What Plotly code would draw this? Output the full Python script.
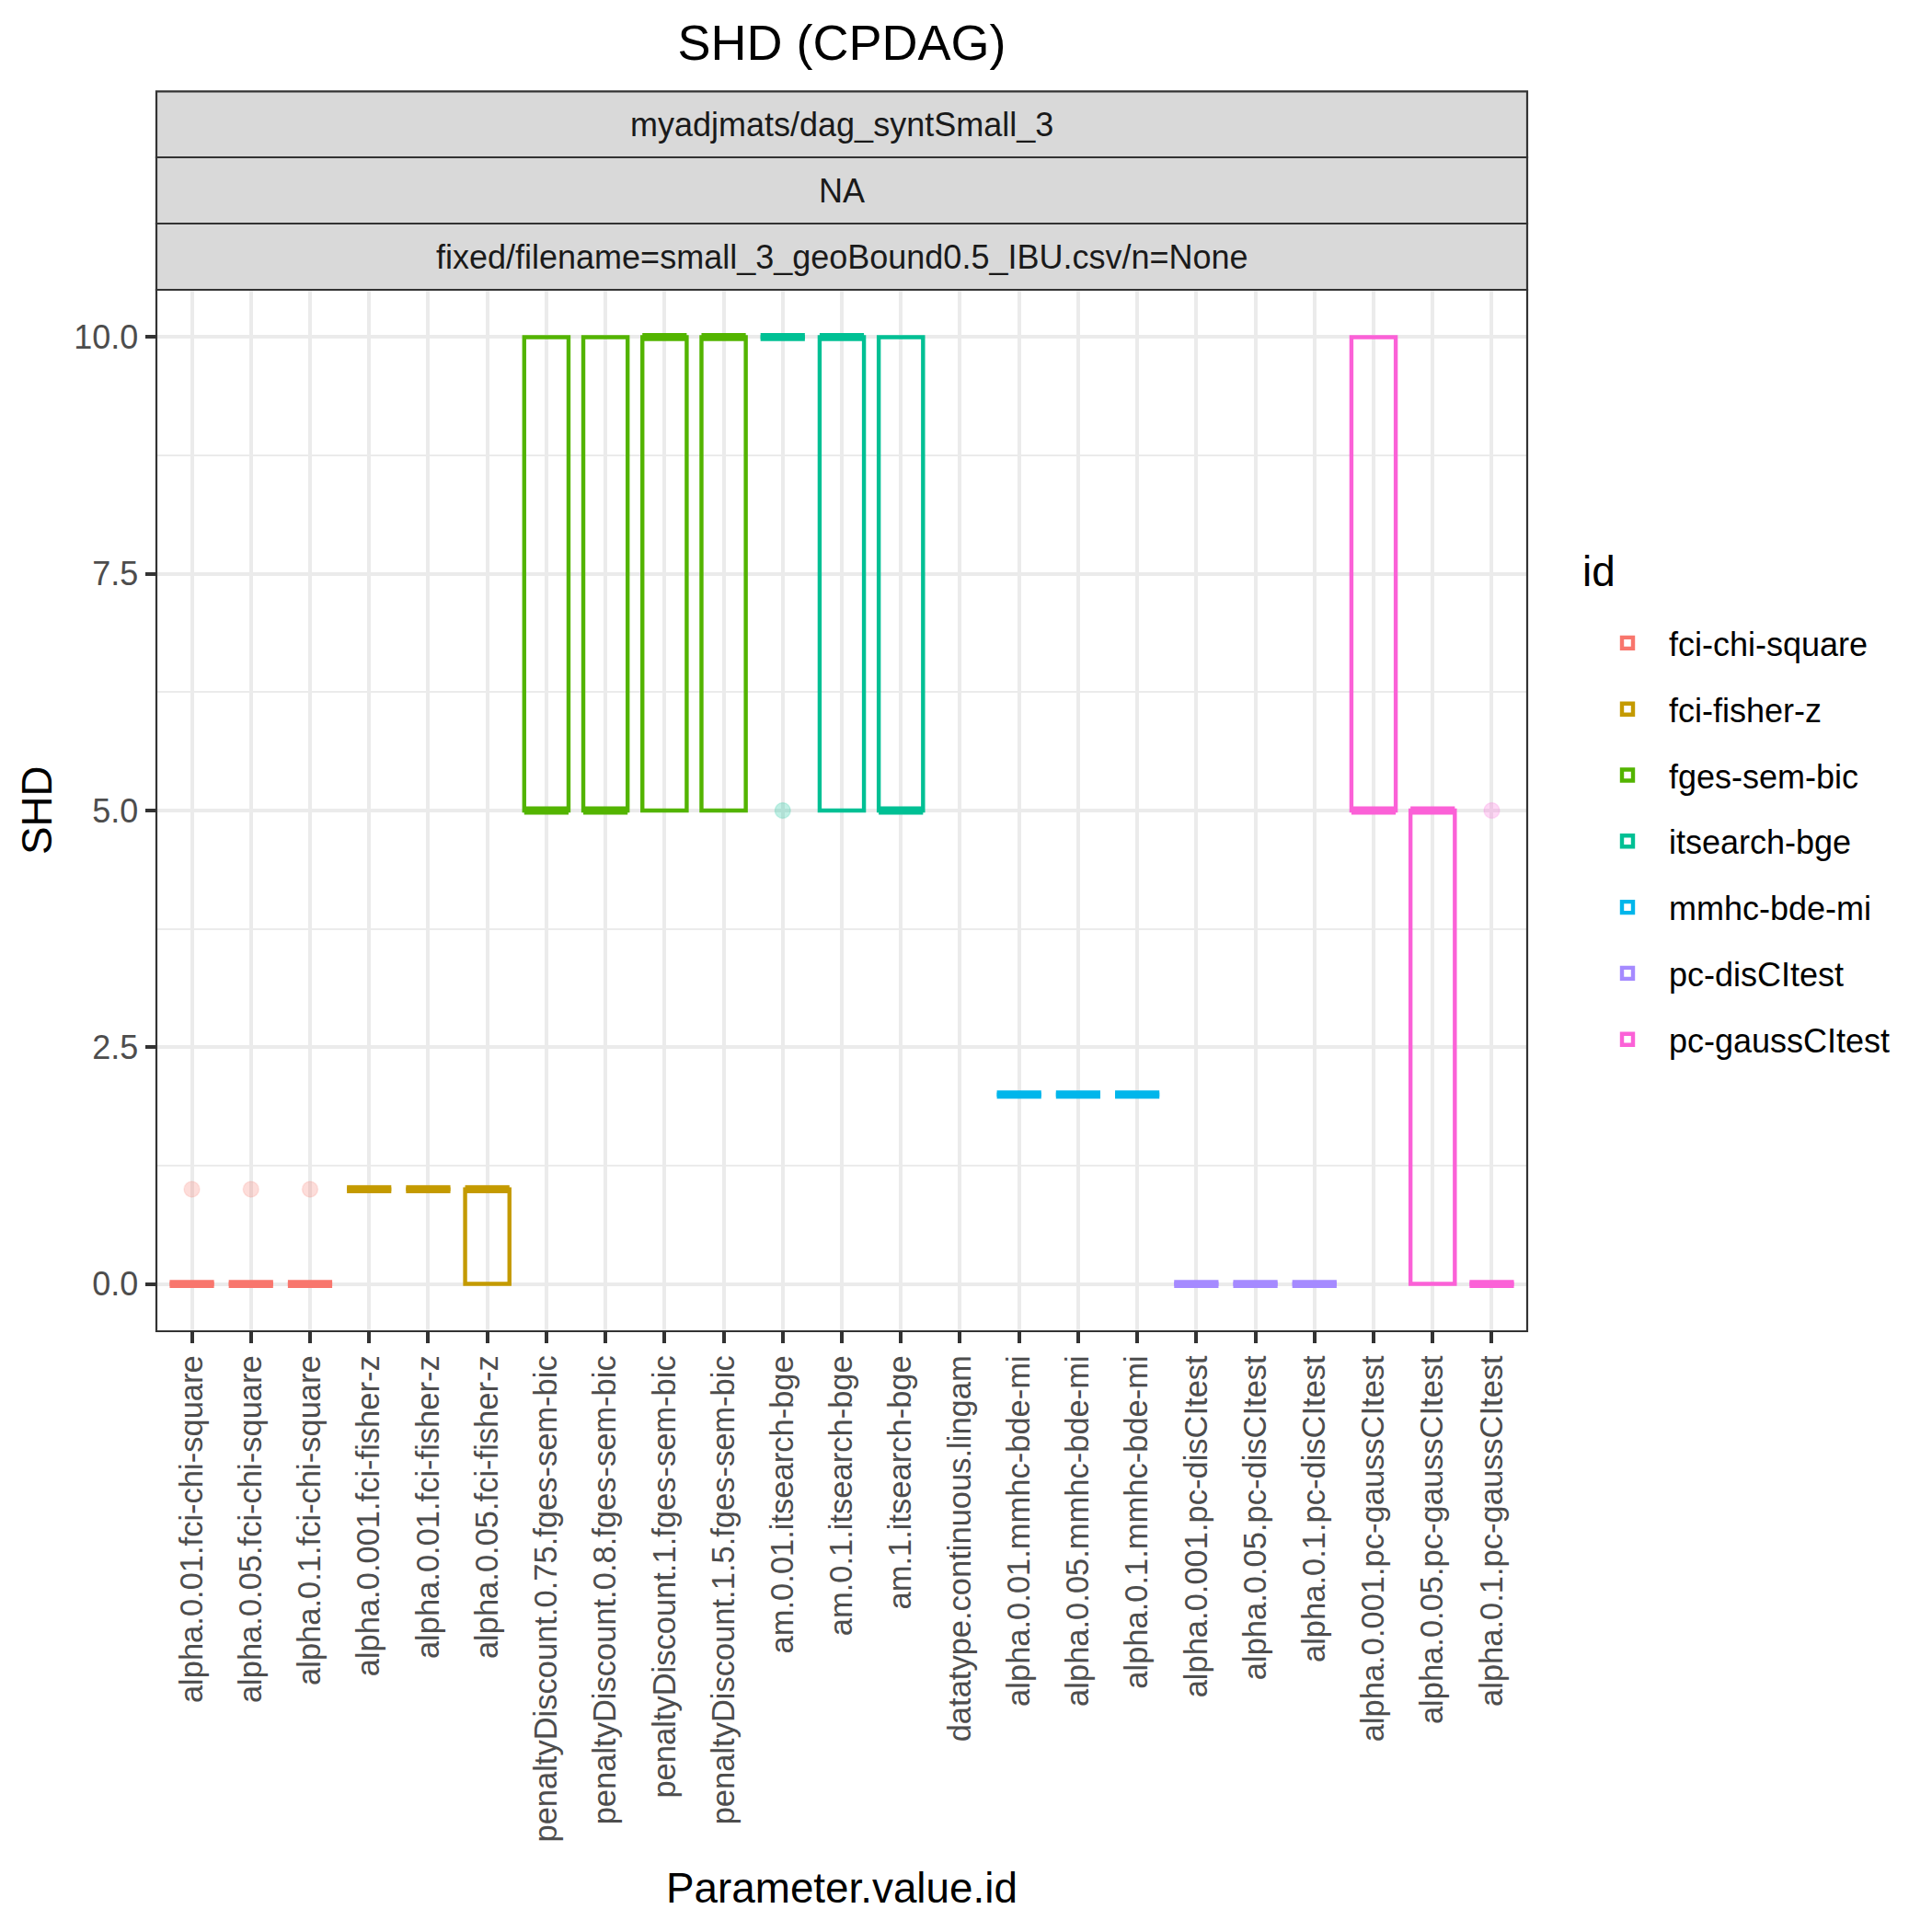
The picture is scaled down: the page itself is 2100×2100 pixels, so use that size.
import plotly.graph_objects as go

# ---------------- data ----------------
categories = [
    "alpha.0.01.fci-chi-square", "alpha.0.05.fci-chi-square", "alpha.0.1.fci-chi-square",
    "alpha.0.001.fci-fisher-z", "alpha.0.01.fci-fisher-z", "alpha.0.05.fci-fisher-z",
    "penaltyDiscount.0.75.fges-sem-bic", "penaltyDiscount.0.8.fges-sem-bic",
    "penaltyDiscount.1.fges-sem-bic", "penaltyDiscount.1.5.fges-sem-bic",
    "am.0.01.itsearch-bge", "am.0.1.itsearch-bge", "am.1.itsearch-bge",
    "datatype.continuous.lingam",
    "alpha.0.01.mmhc-bde-mi", "alpha.0.05.mmhc-bde-mi", "alpha.0.1.mmhc-bde-mi",
    "alpha.0.001.pc-disCItest", "alpha.0.05.pc-disCItest", "alpha.0.1.pc-disCItest",
    "alpha.0.001.pc-gaussCItest", "alpha.0.05.pc-gaussCItest", "alpha.0.1.pc-gaussCItest",
]
cat_ids = [
    "fci-chi-square", "fci-chi-square", "fci-chi-square",
    "fci-fisher-z", "fci-fisher-z", "fci-fisher-z",
    "fges-sem-bic", "fges-sem-bic", "fges-sem-bic", "fges-sem-bic",
    "itsearch-bge", "itsearch-bge", "itsearch-bge",
    None,
    "mmhc-bde-mi", "mmhc-bde-mi", "mmhc-bde-mi",
    "pc-disCItest", "pc-disCItest", "pc-disCItest",
    "pc-gaussCItest", "pc-gaussCItest", "pc-gaussCItest",
]
q1_vals     = [0, 0, 0, 1, 1, 0, 5, 5, 5, 5, 10, 5, 5, None, 2, 2, 2, 0, 0, 0, 5, 0, 0]
median_vals = [0, 0, 0, 1, 1, 1, 5, 5, 10, 10, 10, 10, 5, None, 2, 2, 2, 0, 0, 0, 5, 5, 0]
q3_vals     = [0, 0, 0, 1, 1, 1, 10, 10, 10, 10, 10, 10, 10, None, 2, 2, 2, 0, 0, 0, 10, 5, 0]
outlier_cat = [0, 1, 2, 10, 22]
outlier_val = [1, 1, 1, 5, 5]

legend_ids = ["fci-chi-square", "fci-fisher-z", "fges-sem-bic", "itsearch-bge",
              "mmhc-bde-mi", "pc-disCItest", "pc-gaussCItest"]
id_colors = ["#F8766D", "#C49A00", "#53B400", "#00C094", "#00B6EB", "#A58AFF", "#FB61D7"]
strip_labels = ["myadjmats/dag_syntSmall_3", "NA",
                "fixed/filename=small_3_geoBound0.5_IBU.csv/n=None"]
y_ticks = [0, 2.5, 5, 7.5, 10]

# ---------------- styling ----------------
FONT = "Liberation Sans, Arial, Helvetica, sans-serif"
W = H = 2100
PL, PR, PT, PB = 170, 1660, 315, 1447
STRIP_EDGES = [99.3, 171, 243, 315]
BOX_W = 0.75
LW = 4.4

color_of = dict(zip(legend_ids, id_colors))


def rgba(hexc, a):
    hexc = hexc.lstrip("#")
    r, g, b = int(hexc[0:2], 16), int(hexc[2:4], 16), int(hexc[4:6], 16)
    return f"rgba({r},{g},{b},{a})"


fig = go.Figure()
seen = set()
for i, cid in enumerate(cat_ids):
    if cid is None or q1_vals[i] is None:
        continue
    col = color_of[cid]
    show = cid not in seen
    seen.add(cid)
    fig.add_trace(go.Box(
        x=[i], q1=[q1_vals[i]], median=[median_vals[i]], q3=[q3_vals[i]],
        lowerfence=[q1_vals[i]], upperfence=[q3_vals[i]],
        width=BOX_W, boxpoints=False,
        line=dict(color=col, width=LW), fillcolor="rgba(0,0,0,0)",
        name=cid, legendgroup=cid, showlegend=show,
        legendrank=legend_ids.index(cid) + 1,
    ))
    fig.add_trace(go.Scatter(
        x=[i - BOX_W / 2, i + BOX_W / 2], y=[median_vals[i], median_vals[i]],
        mode="lines", line=dict(color=col, width=LW * 2),
        showlegend=False, legendgroup=cid, hoverinfo="skip",
    ))

for ci, v in zip(outlier_cat, outlier_val):
    col = color_of[cat_ids[ci]]
    fig.add_trace(go.Scatter(
        x=[ci], y=[v], mode="markers",
        marker=dict(size=17, color=rgba(col, 0.25), line=dict(width=1.5, color=rgba(col, 0.15))),
        showlegend=False, hoverinfo="skip",
    ))

# ---------------- layout ----------------
plot_h = PB - PT


def py(p):
    return (PB - p) / plot_h


def px(p):
    return (p - PL) / (PR - PL)


shapes = []
annotations = []
for k, lab in enumerate(strip_labels):
    y0, y1 = py(STRIP_EDGES[k + 1]), py(STRIP_EDGES[k])
    shapes.append(dict(type="rect", xref="paper", yref="paper", x0=0, x1=1, y0=y0, y1=y1,
                       fillcolor="#D9D9D9", line=dict(color="#333333", width=2.2), layer="above"))
    annotations.append(dict(xref="paper", yref="paper", x=0.5, y=(y0 + y1) / 2,
                            text=lab, showarrow=False, xanchor="center", yanchor="middle",
                            font=dict(family=FONT, size=36, color="#1A1A1A")))
shapes.append(dict(type="rect", xref="paper", yref="paper", x0=0, x1=1, y0=0, y1=1,
                   line=dict(color="#333333", width=2.2), layer="above"))
annotations.append(dict(xref="paper", yref="paper", x=0.5, y=py(2052),
                        text="Parameter.value.id", showarrow=False,
                        xanchor="center", yanchor="middle",
                        font=dict(family=FONT, size=45.8, color="black")))
annotations.append(dict(xref="paper", yref="paper", x=px(40), y=0.5,
                        text="SHD", showarrow=False, textangle=-90,
                        xanchor="center", yanchor="middle",
                        font=dict(family=FONT, size=45.8, color="black")))
annotations.append(dict(xref="paper", yref="paper", x=px(1718), y=py(621),
                        text="id", showarrow=False, xanchor="left", yanchor="middle",
                        font=dict(family=FONT, size=45.8, color="black")))

fig.update_layout(
    width=W, height=H,
    margin=dict(l=PL, r=W - PR, t=PT, b=H - PB, autoexpand=False),
    paper_bgcolor="white", plot_bgcolor="white",
    boxmode="overlay",
    font=dict(family=FONT, color="#4D4D4D"),
    title=dict(text="SHD (CPDAG)", x=0.5, xref="paper", xanchor="center",
               y=1 - 46 / H, yref="container", yanchor="middle",
               font=dict(family=FONT, size=54, color="black")),
    xaxis=dict(
        range=[-0.6, len(categories) - 1 + 0.6],
        tickmode="array", tickvals=list(range(len(categories))), ticktext=categories,
        tickangle=-90, tickfont=dict(family=FONT, size=34.5, color="#4D4D4D"),
        ticks="outside", ticklen=11.5, tickwidth=3.5, tickcolor="#333333",
        showgrid=True, gridcolor="#EBEBEB", gridwidth=LW,
        zeroline=False, showline=False, automargin=False,
    ),
    yaxis=dict(
        range=[-0.5, 10.5],
        tickmode="array", tickvals=y_ticks, ticktext=[f"{v:.1f}" for v in y_ticks],
        tickfont=dict(family=FONT, size=36, color="#4D4D4D"),
        ticks="outside", ticklen=11.5, tickwidth=3.5, tickcolor="#333333",
        showgrid=True, gridcolor="#EBEBEB", gridwidth=LW,
        minor=dict(tickmode="array", tickvals=[1.25, 3.75, 6.25, 8.75],
                   showgrid=True, gridcolor="#EBEBEB", gridwidth=LW / 2, ticks=""),
        zeroline=False, showline=False, automargin=False,
    ),
    legend=dict(
        font=dict(family=FONT, size=36, color="black"),
        x=px(1724), xanchor="left",
        y=py(669), yanchor="top",
        itemwidth=80,
        tracegroupgap=22, bgcolor="rgba(0,0,0,0)",
        traceorder="grouped",
    ),
    shapes=shapes,
    annotations=annotations,
)

fig.write_html("out.html", config={"displayModeBar": False},
               post_script="document.body.style.margin='0px';")
